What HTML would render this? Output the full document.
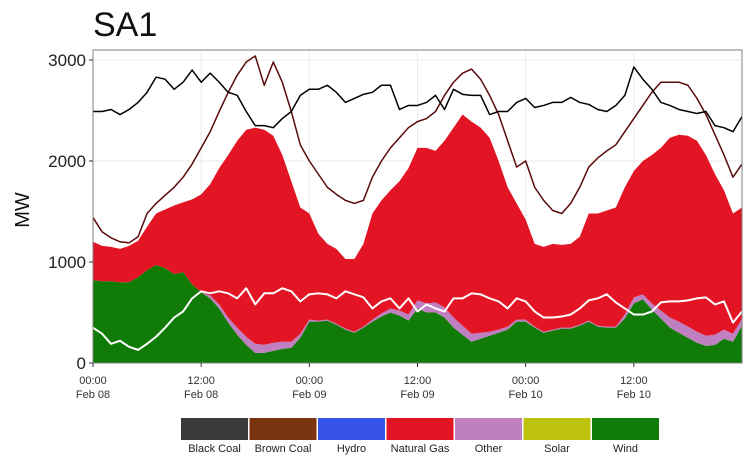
<!DOCTYPE html>
<html><head><meta charset="utf-8"><style>
body{margin:0;background:#fff;width:754px;height:471px;overflow:hidden;font-family:"Liberation Sans",sans-serif}
</style></head><body>
<svg id="c" width="754" height="471" xmlns="http://www.w3.org/2000/svg" font-family="Liberation Sans, sans-serif"></svg>
<script>
const hours=[];for(let i=0;i<=72;i++)hours.push(i);
const wind=[820,810,810,800,800,850,920,970,940,880,900,780,700,640,540,400,280,180,100,100,120,140,150,250,410,410,420,380,330,300,350,410,460,500,470,420,540,500,500,450,350,280,210,240,270,300,330,410,410,350,300,320,340,340,370,410,360,350,350,440,590,630,530,440,350,300,250,200,170,180,240,210,370];
const other=[0,0,0,0,0,0,0,0,0,0,0,0,0,30,40,50,70,80,90,80,80,70,60,40,20,10,10,10,10,10,10,20,30,40,50,60,80,90,100,100,100,90,80,60,40,30,30,20,20,10,10,10,10,10,10,10,10,10,10,40,60,50,60,80,100,110,110,110,100,100,90,80,70];
const gas=[380,350,340,330,360,360,430,510,580,680,690,840,970,1100,1350,1610,1850,2050,2140,2130,2050,1850,1590,1250,1050,860,750,740,690,720,820,1050,1120,1170,1280,1450,1510,1540,1500,1650,1880,2090,2100,2030,1920,1670,1380,1150,990,820,840,850,820,830,870,1060,1110,1150,1180,1260,1250,1320,1470,1610,1780,1850,1890,1890,1790,1590,1380,1190,1100];
const blackLine=[2490,2490,2510,2460,2510,2580,2680,2830,2810,2710,2780,2900,2780,2870,2780,2680,2650,2490,2350,2350,2330,2420,2490,2650,2710,2710,2750,2680,2580,2620,2660,2680,2750,2750,2510,2550,2550,2580,2650,2510,2710,2660,2650,2650,2460,2490,2490,2580,2620,2530,2550,2580,2580,2630,2580,2560,2510,2490,2550,2650,2930,2810,2710,2580,2550,2510,2490,2470,2490,2350,2330,2290,2440];
const redLine=[1440,1300,1240,1200,1190,1250,1480,1580,1660,1740,1840,1970,2130,2290,2490,2680,2850,2980,3040,2750,2980,2780,2490,2160,2000,1870,1740,1670,1610,1580,1610,1840,2000,2130,2230,2330,2390,2420,2490,2650,2780,2870,2910,2810,2650,2460,2200,1940,2000,1740,1610,1510,1480,1580,1740,1940,2030,2100,2160,2290,2420,2550,2680,2780,2780,2780,2750,2620,2460,2260,2060,1840,1970];
const whiteLine=[350,290,190,220,160,130,190,260,350,450,510,640,710,690,710,690,640,740,580,690,690,740,710,610,680,690,680,640,710,680,650,540,610,640,540,640,510,580,540,510,640,640,690,680,640,610,540,640,610,510,450,450,460,480,540,620,640,680,600,540,480,480,510,600,610,610,620,640,650,580,610,400,510];
const yTicks=[0,1000,2000,3000];
const xTicks=[0,12,24,36,48,60];
const xTickTop=["00:00","12:00","00:00","12:00","00:00","12:00"];
const xTickBot=["Feb 08","Feb 08","Feb 09","Feb 09","Feb 10","Feb 10"];
const legendNames=["Black Coal","Brown Coal","Hydro","Natural Gas","Other","Solar","Wind"];
const legendColors=["#3a3a3a","#7b3410","#3553e8","#e31525","#c07fc0","#bdc20c","#117b08"];

const L=93,R=742,T=50,B=363;
const xs=h=>L+h*(R-L)/72;
const ys=v=>B-v*(B-60)/3000;
const svg=document.getElementById('c');
const NS='http://www.w3.org/2000/svg';
function mk(tag,attrs,parent){const e=document.createElementNS(NS,tag);for(const k in attrs)e.setAttribute(k,attrs[k]);(parent||svg).appendChild(e);return e;}

// grid
yTicks.forEach(v=>{const g=mk('line',{x1:L,x2:R,y1:ys(v),y2:ys(v),stroke:'#ebebeb','stroke-width':1});

});
[500,1500,2500].forEach(v=>{mk('line',{x1:L,x2:R,y1:ys(v),y2:ys(v),stroke:'#f4f4f4','stroke-width':0.6});});
xTicks.forEach(h=>{const g=mk('line',{x1:xs(h),x2:xs(h),y1:T,y2:B,stroke:'#ebebeb','stroke-width':1});

});

// stacked areas
const base=hours.map(()=>0);
function area(vals,color,name){
  const lower=base.slice();
  const upper=lower.map((b,i)=>b+vals[i]);
  let d='M'+xs(0)+','+ys(upper[0]);
  for(let i=1;i<hours.length;i++)d+='L'+xs(hours[i])+','+ys(upper[i]);
  for(let i=hours.length-1;i>=0;i--)d+='L'+xs(hours[i])+','+ys(lower[i]);
  const p=mk('path',{d:d+'Z',fill:color,stroke:'none'});
  
  
  upper.forEach((u,i)=>base[i]=u);
}
area(wind,'#117b08','wind-area');
area(other,'#c07fc0','other-area');
area(gas,'#e31525','natural-gas-area');

function line(vals,color,w,name){
  const d=vals.map((v,i)=>(i?'L':'M')+xs(hours[i])+','+ys(v)).join('');
  const p=mk('path',{d:d,fill:'none',stroke:color,'stroke-width':w,'stroke-linejoin':'round'});
  
  
}
line(whiteLine,'#ffffff',2,'white-line');
line(redLine,'#5a0a0a',1.5,'dark-red-line');
line(blackLine,'#000000',1.5,'black-line');

// border
const bd=mk('rect',{x:L,y:T,width:R-L,height:B-T,fill:'none',stroke:'#7f7f7f','stroke-width':1});



// y ticks
yTicks.forEach(v=>{
  mk('line',{x1:L-4,x2:L,y1:ys(v),y2:ys(v),stroke:'#333'});
  const t=mk('text',{x:L-7,y:ys(v)+6,'text-anchor':'end','font-size':17,fill:'#222'});t.textContent=v;
  
  
});
xTicks.forEach((h,i)=>{
  mk('line',{x1:xs(h),x2:xs(h),y1:B,y2:B+4,stroke:'#333'});
  const t=mk('text',{x:xs(h),y:384,'text-anchor':'middle','font-size':11,fill:'#333'});t.textContent=xTickTop[i];
  
  
  const t2=mk('text',{x:xs(h),y:398,'text-anchor':'middle','font-size':11,fill:'#333'});t2.textContent=xTickBot[i];
  
  
});
const yt=mk('text',{x:0,y:0,transform:'translate(29,210) rotate(-90)','text-anchor':'middle','font-size':20,fill:'#111'});yt.textContent='MW';


const ti=mk('text',{x:93,y:36,'font-size':34,fill:'#111'});ti.textContent='SA1';



// legend
legendNames.forEach((n,i)=>{
  const x=181+i*68.5;
  const r=mk('rect',{x:x,y:418,width:67,height:22,fill:legendColors[i]});
  
  
  const t=mk('text',{x:x+33.5,y:452,'text-anchor':'middle','font-size':11,fill:'#222'});t.textContent=n;
  
  
});
</script>
</body></html>
